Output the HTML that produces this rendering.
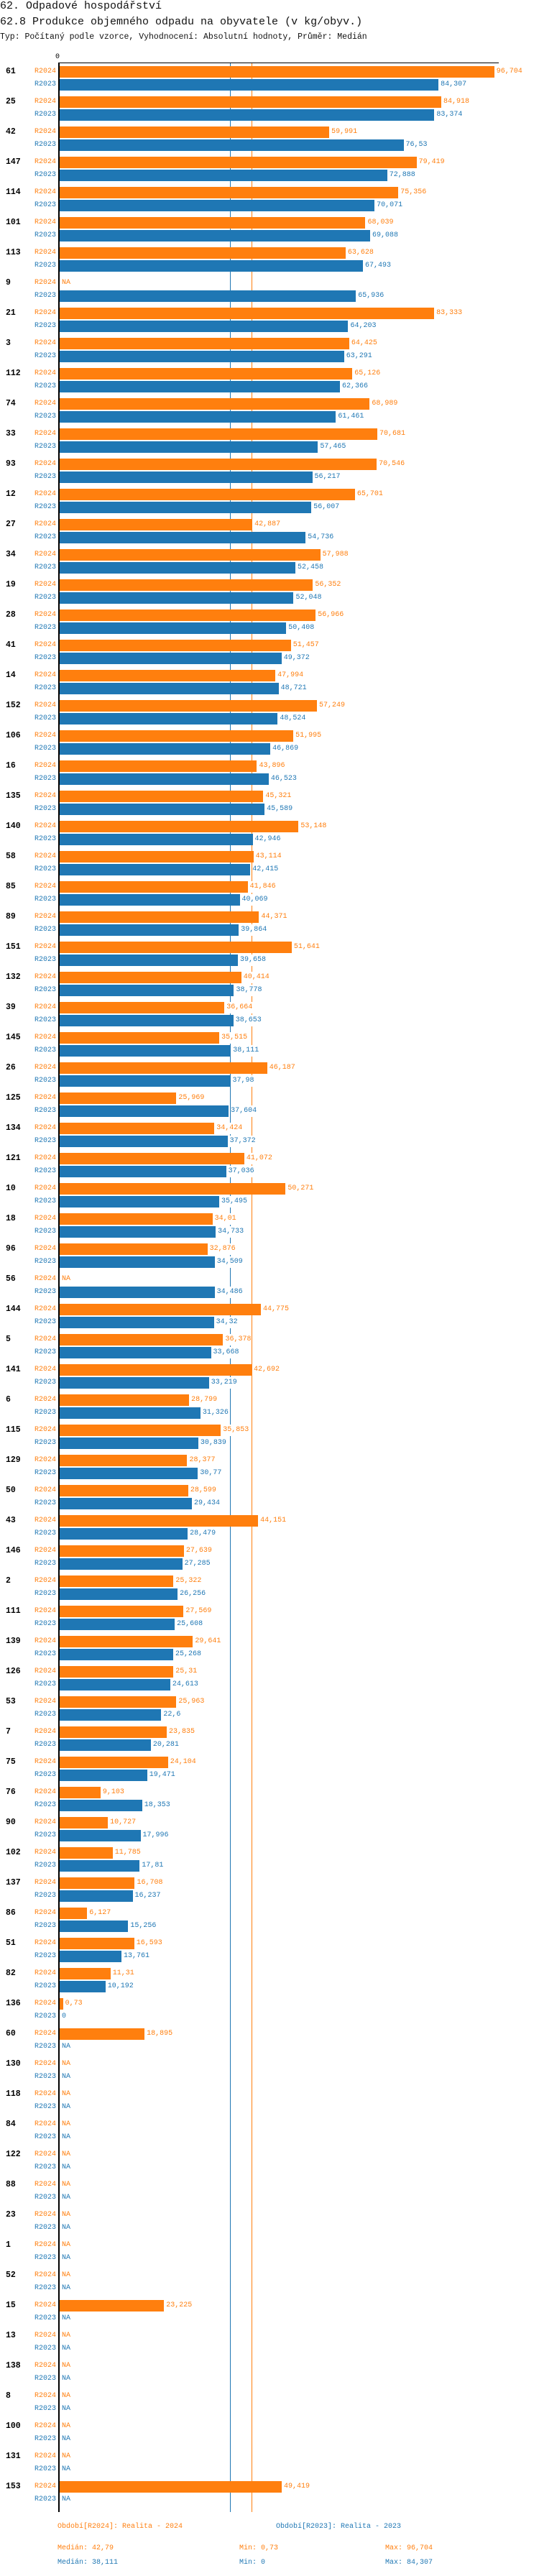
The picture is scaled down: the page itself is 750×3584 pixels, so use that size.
<!DOCTYPE html>
<html><head><meta charset="utf-8">
<style>
*{margin:0;padding:0;box-sizing:border-box}
body{width:750px;height:3584px;background:#fff;position:relative;overflow:hidden;font-family:"Liberation Mono",monospace;font-size:10px}
.t1{position:absolute;left:0;top:0;font-size:15px;line-height:17px;color:#111}
.t2{position:absolute;left:0;top:22px;font-size:15px;line-height:17px;color:#111}
.t3{position:absolute;left:0;top:45px;font-size:11.5px;line-height:14px;color:#111}
.zero{position:absolute;left:77px;top:74px;font-size:10px;line-height:12px}
.ax{position:absolute;left:81px;top:88px;width:2px;height:3407px;background:#000}
.axh{position:absolute;left:81px;top:87px;width:613px;height:1px;background:#000}
.mb{position:absolute;left:320px;top:88px;width:1px;height:3407px;background:#1f77b4}
.mo{position:absolute;left:350px;top:88px;width:1px;height:3407px;background:#ff7f0e}
.g{position:absolute;left:0;top:calc(92px + var(--i)*42px);width:750px;height:34px}
.g b{position:absolute;left:8px;top:0;line-height:16px;font-size:11.5px;font-weight:bold;color:#000}
.g i{position:absolute;left:0;width:78px;text-align:right;font-style:normal;line-height:16px}
.g i.o{top:0}.g i.u{top:18px}
.g p{position:absolute;left:0;width:750px;height:16px}
.g p.o{top:0;color:#ff7f0e}.g p.u{top:18px;color:#1f77b4}
.o{color:#ff7f0e}.u{color:#1f77b4}
.g s{position:absolute;left:83px;top:0;height:16px;width:calc(var(--v)*6.253px)}
.g p.o s{background:#ff7f0e}.g p.u s{background:#1f77b4}
.g em{position:absolute;left:calc(86px + var(--v)*6.253px);top:0;line-height:16px;font-style:normal;background:#fff;padding-right:1px}
.lg{position:absolute;font-size:10px;line-height:12px}
</style></head><body>
<div class="t1">62. Odpadové hospodářství</div>
<div class="t2">62.8 Produkce objemného odpadu na obyvatele (v kg/obyv.)</div>
<div class="t3">Typ: Počítaný podle vzorce, Vyhodnocení: Absolutní hodnoty, Průměr: Medián</div>
<div class="zero">0</div>
<div class="mb"></div><div class="mo"></div>
<div class="axh"></div>

<div class="g" style="--i:0"><b>61</b><i class="o">R2024</i><i class="u">R2023</i><p class="o" style="--v:96.704"><s></s><em>96,704</em></p><p class="u" style="--v:84.307"><s></s><em>84,307</em></p></div>
<div class="g" style="--i:1"><b>25</b><i class="o">R2024</i><i class="u">R2023</i><p class="o" style="--v:84.918"><s></s><em>84,918</em></p><p class="u" style="--v:83.374"><s></s><em>83,374</em></p></div>
<div class="g" style="--i:2"><b>42</b><i class="o">R2024</i><i class="u">R2023</i><p class="o" style="--v:59.991"><s></s><em>59,991</em></p><p class="u" style="--v:76.53"><s></s><em>76,53</em></p></div>
<div class="g" style="--i:3"><b>147</b><i class="o">R2024</i><i class="u">R2023</i><p class="o" style="--v:79.419"><s></s><em>79,419</em></p><p class="u" style="--v:72.888"><s></s><em>72,888</em></p></div>
<div class="g" style="--i:4"><b>114</b><i class="o">R2024</i><i class="u">R2023</i><p class="o" style="--v:75.356"><s></s><em>75,356</em></p><p class="u" style="--v:70.071"><s></s><em>70,071</em></p></div>
<div class="g" style="--i:5"><b>101</b><i class="o">R2024</i><i class="u">R2023</i><p class="o" style="--v:68.039"><s></s><em>68,039</em></p><p class="u" style="--v:69.088"><s></s><em>69,088</em></p></div>
<div class="g" style="--i:6"><b>113</b><i class="o">R2024</i><i class="u">R2023</i><p class="o" style="--v:63.628"><s></s><em>63,628</em></p><p class="u" style="--v:67.493"><s></s><em>67,493</em></p></div>
<div class="g" style="--i:7"><b>9</b><i class="o">R2024</i><i class="u">R2023</i><p class="o" style="--v:0"><em>NA</em></p><p class="u" style="--v:65.936"><s></s><em>65,936</em></p></div>
<div class="g" style="--i:8"><b>21</b><i class="o">R2024</i><i class="u">R2023</i><p class="o" style="--v:83.333"><s></s><em>83,333</em></p><p class="u" style="--v:64.203"><s></s><em>64,203</em></p></div>
<div class="g" style="--i:9"><b>3</b><i class="o">R2024</i><i class="u">R2023</i><p class="o" style="--v:64.425"><s></s><em>64,425</em></p><p class="u" style="--v:63.291"><s></s><em>63,291</em></p></div>
<div class="g" style="--i:10"><b>112</b><i class="o">R2024</i><i class="u">R2023</i><p class="o" style="--v:65.126"><s></s><em>65,126</em></p><p class="u" style="--v:62.366"><s></s><em>62,366</em></p></div>
<div class="g" style="--i:11"><b>74</b><i class="o">R2024</i><i class="u">R2023</i><p class="o" style="--v:68.989"><s></s><em>68,989</em></p><p class="u" style="--v:61.461"><s></s><em>61,461</em></p></div>
<div class="g" style="--i:12"><b>33</b><i class="o">R2024</i><i class="u">R2023</i><p class="o" style="--v:70.681"><s></s><em>70,681</em></p><p class="u" style="--v:57.465"><s></s><em>57,465</em></p></div>
<div class="g" style="--i:13"><b>93</b><i class="o">R2024</i><i class="u">R2023</i><p class="o" style="--v:70.546"><s></s><em>70,546</em></p><p class="u" style="--v:56.217"><s></s><em>56,217</em></p></div>
<div class="g" style="--i:14"><b>12</b><i class="o">R2024</i><i class="u">R2023</i><p class="o" style="--v:65.701"><s></s><em>65,701</em></p><p class="u" style="--v:56.007"><s></s><em>56,007</em></p></div>
<div class="g" style="--i:15"><b>27</b><i class="o">R2024</i><i class="u">R2023</i><p class="o" style="--v:42.887"><s></s><em>42,887</em></p><p class="u" style="--v:54.736"><s></s><em>54,736</em></p></div>
<div class="g" style="--i:16"><b>34</b><i class="o">R2024</i><i class="u">R2023</i><p class="o" style="--v:57.988"><s></s><em>57,988</em></p><p class="u" style="--v:52.458"><s></s><em>52,458</em></p></div>
<div class="g" style="--i:17"><b>19</b><i class="o">R2024</i><i class="u">R2023</i><p class="o" style="--v:56.352"><s></s><em>56,352</em></p><p class="u" style="--v:52.048"><s></s><em>52,048</em></p></div>
<div class="g" style="--i:18"><b>28</b><i class="o">R2024</i><i class="u">R2023</i><p class="o" style="--v:56.966"><s></s><em>56,966</em></p><p class="u" style="--v:50.408"><s></s><em>50,408</em></p></div>
<div class="g" style="--i:19"><b>41</b><i class="o">R2024</i><i class="u">R2023</i><p class="o" style="--v:51.457"><s></s><em>51,457</em></p><p class="u" style="--v:49.372"><s></s><em>49,372</em></p></div>
<div class="g" style="--i:20"><b>14</b><i class="o">R2024</i><i class="u">R2023</i><p class="o" style="--v:47.994"><s></s><em>47,994</em></p><p class="u" style="--v:48.721"><s></s><em>48,721</em></p></div>
<div class="g" style="--i:21"><b>152</b><i class="o">R2024</i><i class="u">R2023</i><p class="o" style="--v:57.249"><s></s><em>57,249</em></p><p class="u" style="--v:48.524"><s></s><em>48,524</em></p></div>
<div class="g" style="--i:22"><b>106</b><i class="o">R2024</i><i class="u">R2023</i><p class="o" style="--v:51.995"><s></s><em>51,995</em></p><p class="u" style="--v:46.869"><s></s><em>46,869</em></p></div>
<div class="g" style="--i:23"><b>16</b><i class="o">R2024</i><i class="u">R2023</i><p class="o" style="--v:43.896"><s></s><em>43,896</em></p><p class="u" style="--v:46.523"><s></s><em>46,523</em></p></div>
<div class="g" style="--i:24"><b>135</b><i class="o">R2024</i><i class="u">R2023</i><p class="o" style="--v:45.321"><s></s><em>45,321</em></p><p class="u" style="--v:45.589"><s></s><em>45,589</em></p></div>
<div class="g" style="--i:25"><b>140</b><i class="o">R2024</i><i class="u">R2023</i><p class="o" style="--v:53.148"><s></s><em>53,148</em></p><p class="u" style="--v:42.946"><s></s><em>42,946</em></p></div>
<div class="g" style="--i:26"><b>58</b><i class="o">R2024</i><i class="u">R2023</i><p class="o" style="--v:43.114"><s></s><em>43,114</em></p><p class="u" style="--v:42.415"><s></s><em>42,415</em></p></div>
<div class="g" style="--i:27"><b>85</b><i class="o">R2024</i><i class="u">R2023</i><p class="o" style="--v:41.846"><s></s><em>41,846</em></p><p class="u" style="--v:40.069"><s></s><em>40,069</em></p></div>
<div class="g" style="--i:28"><b>89</b><i class="o">R2024</i><i class="u">R2023</i><p class="o" style="--v:44.371"><s></s><em>44,371</em></p><p class="u" style="--v:39.864"><s></s><em>39,864</em></p></div>
<div class="g" style="--i:29"><b>151</b><i class="o">R2024</i><i class="u">R2023</i><p class="o" style="--v:51.641"><s></s><em>51,641</em></p><p class="u" style="--v:39.658"><s></s><em>39,658</em></p></div>
<div class="g" style="--i:30"><b>132</b><i class="o">R2024</i><i class="u">R2023</i><p class="o" style="--v:40.414"><s></s><em>40,414</em></p><p class="u" style="--v:38.778"><s></s><em>38,778</em></p></div>
<div class="g" style="--i:31"><b>39</b><i class="o">R2024</i><i class="u">R2023</i><p class="o" style="--v:36.664"><s></s><em>36,664</em></p><p class="u" style="--v:38.653"><s></s><em>38,653</em></p></div>
<div class="g" style="--i:32"><b>145</b><i class="o">R2024</i><i class="u">R2023</i><p class="o" style="--v:35.515"><s></s><em>35,515</em></p><p class="u" style="--v:38.111"><s></s><em>38,111</em></p></div>
<div class="g" style="--i:33"><b>26</b><i class="o">R2024</i><i class="u">R2023</i><p class="o" style="--v:46.187"><s></s><em>46,187</em></p><p class="u" style="--v:37.98"><s></s><em>37,98</em></p></div>
<div class="g" style="--i:34"><b>125</b><i class="o">R2024</i><i class="u">R2023</i><p class="o" style="--v:25.969"><s></s><em>25,969</em></p><p class="u" style="--v:37.604"><s></s><em>37,604</em></p></div>
<div class="g" style="--i:35"><b>134</b><i class="o">R2024</i><i class="u">R2023</i><p class="o" style="--v:34.424"><s></s><em>34,424</em></p><p class="u" style="--v:37.372"><s></s><em>37,372</em></p></div>
<div class="g" style="--i:36"><b>121</b><i class="o">R2024</i><i class="u">R2023</i><p class="o" style="--v:41.072"><s></s><em>41,072</em></p><p class="u" style="--v:37.036"><s></s><em>37,036</em></p></div>
<div class="g" style="--i:37"><b>10</b><i class="o">R2024</i><i class="u">R2023</i><p class="o" style="--v:50.271"><s></s><em>50,271</em></p><p class="u" style="--v:35.495"><s></s><em>35,495</em></p></div>
<div class="g" style="--i:38"><b>18</b><i class="o">R2024</i><i class="u">R2023</i><p class="o" style="--v:34.01"><s></s><em>34,01</em></p><p class="u" style="--v:34.733"><s></s><em>34,733</em></p></div>
<div class="g" style="--i:39"><b>96</b><i class="o">R2024</i><i class="u">R2023</i><p class="o" style="--v:32.876"><s></s><em>32,876</em></p><p class="u" style="--v:34.509"><s></s><em>34,509</em></p></div>
<div class="g" style="--i:40"><b>56</b><i class="o">R2024</i><i class="u">R2023</i><p class="o" style="--v:0"><em>NA</em></p><p class="u" style="--v:34.486"><s></s><em>34,486</em></p></div>
<div class="g" style="--i:41"><b>144</b><i class="o">R2024</i><i class="u">R2023</i><p class="o" style="--v:44.775"><s></s><em>44,775</em></p><p class="u" style="--v:34.32"><s></s><em>34,32</em></p></div>
<div class="g" style="--i:42"><b>5</b><i class="o">R2024</i><i class="u">R2023</i><p class="o" style="--v:36.378"><s></s><em>36,378</em></p><p class="u" style="--v:33.668"><s></s><em>33,668</em></p></div>
<div class="g" style="--i:43"><b>141</b><i class="o">R2024</i><i class="u">R2023</i><p class="o" style="--v:42.692"><s></s><em>42,692</em></p><p class="u" style="--v:33.219"><s></s><em>33,219</em></p></div>
<div class="g" style="--i:44"><b>6</b><i class="o">R2024</i><i class="u">R2023</i><p class="o" style="--v:28.799"><s></s><em>28,799</em></p><p class="u" style="--v:31.326"><s></s><em>31,326</em></p></div>
<div class="g" style="--i:45"><b>115</b><i class="o">R2024</i><i class="u">R2023</i><p class="o" style="--v:35.853"><s></s><em>35,853</em></p><p class="u" style="--v:30.839"><s></s><em>30,839</em></p></div>
<div class="g" style="--i:46"><b>129</b><i class="o">R2024</i><i class="u">R2023</i><p class="o" style="--v:28.377"><s></s><em>28,377</em></p><p class="u" style="--v:30.77"><s></s><em>30,77</em></p></div>
<div class="g" style="--i:47"><b>50</b><i class="o">R2024</i><i class="u">R2023</i><p class="o" style="--v:28.599"><s></s><em>28,599</em></p><p class="u" style="--v:29.434"><s></s><em>29,434</em></p></div>
<div class="g" style="--i:48"><b>43</b><i class="o">R2024</i><i class="u">R2023</i><p class="o" style="--v:44.151"><s></s><em>44,151</em></p><p class="u" style="--v:28.479"><s></s><em>28,479</em></p></div>
<div class="g" style="--i:49"><b>146</b><i class="o">R2024</i><i class="u">R2023</i><p class="o" style="--v:27.639"><s></s><em>27,639</em></p><p class="u" style="--v:27.285"><s></s><em>27,285</em></p></div>
<div class="g" style="--i:50"><b>2</b><i class="o">R2024</i><i class="u">R2023</i><p class="o" style="--v:25.322"><s></s><em>25,322</em></p><p class="u" style="--v:26.256"><s></s><em>26,256</em></p></div>
<div class="g" style="--i:51"><b>111</b><i class="o">R2024</i><i class="u">R2023</i><p class="o" style="--v:27.569"><s></s><em>27,569</em></p><p class="u" style="--v:25.608"><s></s><em>25,608</em></p></div>
<div class="g" style="--i:52"><b>139</b><i class="o">R2024</i><i class="u">R2023</i><p class="o" style="--v:29.641"><s></s><em>29,641</em></p><p class="u" style="--v:25.268"><s></s><em>25,268</em></p></div>
<div class="g" style="--i:53"><b>126</b><i class="o">R2024</i><i class="u">R2023</i><p class="o" style="--v:25.31"><s></s><em>25,31</em></p><p class="u" style="--v:24.613"><s></s><em>24,613</em></p></div>
<div class="g" style="--i:54"><b>53</b><i class="o">R2024</i><i class="u">R2023</i><p class="o" style="--v:25.963"><s></s><em>25,963</em></p><p class="u" style="--v:22.6"><s></s><em>22,6</em></p></div>
<div class="g" style="--i:55"><b>7</b><i class="o">R2024</i><i class="u">R2023</i><p class="o" style="--v:23.835"><s></s><em>23,835</em></p><p class="u" style="--v:20.281"><s></s><em>20,281</em></p></div>
<div class="g" style="--i:56"><b>75</b><i class="o">R2024</i><i class="u">R2023</i><p class="o" style="--v:24.104"><s></s><em>24,104</em></p><p class="u" style="--v:19.471"><s></s><em>19,471</em></p></div>
<div class="g" style="--i:57"><b>76</b><i class="o">R2024</i><i class="u">R2023</i><p class="o" style="--v:9.103"><s></s><em>9,103</em></p><p class="u" style="--v:18.353"><s></s><em>18,353</em></p></div>
<div class="g" style="--i:58"><b>90</b><i class="o">R2024</i><i class="u">R2023</i><p class="o" style="--v:10.727"><s></s><em>10,727</em></p><p class="u" style="--v:17.996"><s></s><em>17,996</em></p></div>
<div class="g" style="--i:59"><b>102</b><i class="o">R2024</i><i class="u">R2023</i><p class="o" style="--v:11.785"><s></s><em>11,785</em></p><p class="u" style="--v:17.81"><s></s><em>17,81</em></p></div>
<div class="g" style="--i:60"><b>137</b><i class="o">R2024</i><i class="u">R2023</i><p class="o" style="--v:16.708"><s></s><em>16,708</em></p><p class="u" style="--v:16.237"><s></s><em>16,237</em></p></div>
<div class="g" style="--i:61"><b>86</b><i class="o">R2024</i><i class="u">R2023</i><p class="o" style="--v:6.127"><s></s><em>6,127</em></p><p class="u" style="--v:15.256"><s></s><em>15,256</em></p></div>
<div class="g" style="--i:62"><b>51</b><i class="o">R2024</i><i class="u">R2023</i><p class="o" style="--v:16.593"><s></s><em>16,593</em></p><p class="u" style="--v:13.761"><s></s><em>13,761</em></p></div>
<div class="g" style="--i:63"><b>82</b><i class="o">R2024</i><i class="u">R2023</i><p class="o" style="--v:11.31"><s></s><em>11,31</em></p><p class="u" style="--v:10.192"><s></s><em>10,192</em></p></div>
<div class="g" style="--i:64"><b>136</b><i class="o">R2024</i><i class="u">R2023</i><p class="o" style="--v:0.73"><s></s><em>0,73</em></p><p class="u" style="--v:0"><em>0</em></p></div>
<div class="g" style="--i:65"><b>60</b><i class="o">R2024</i><i class="u">R2023</i><p class="o" style="--v:18.895"><s></s><em>18,895</em></p><p class="u" style="--v:0"><em>NA</em></p></div>
<div class="g" style="--i:66"><b>130</b><i class="o">R2024</i><i class="u">R2023</i><p class="o" style="--v:0"><em>NA</em></p><p class="u" style="--v:0"><em>NA</em></p></div>
<div class="g" style="--i:67"><b>118</b><i class="o">R2024</i><i class="u">R2023</i><p class="o" style="--v:0"><em>NA</em></p><p class="u" style="--v:0"><em>NA</em></p></div>
<div class="g" style="--i:68"><b>84</b><i class="o">R2024</i><i class="u">R2023</i><p class="o" style="--v:0"><em>NA</em></p><p class="u" style="--v:0"><em>NA</em></p></div>
<div class="g" style="--i:69"><b>122</b><i class="o">R2024</i><i class="u">R2023</i><p class="o" style="--v:0"><em>NA</em></p><p class="u" style="--v:0"><em>NA</em></p></div>
<div class="g" style="--i:70"><b>88</b><i class="o">R2024</i><i class="u">R2023</i><p class="o" style="--v:0"><em>NA</em></p><p class="u" style="--v:0"><em>NA</em></p></div>
<div class="g" style="--i:71"><b>23</b><i class="o">R2024</i><i class="u">R2023</i><p class="o" style="--v:0"><em>NA</em></p><p class="u" style="--v:0"><em>NA</em></p></div>
<div class="g" style="--i:72"><b>1</b><i class="o">R2024</i><i class="u">R2023</i><p class="o" style="--v:0"><em>NA</em></p><p class="u" style="--v:0"><em>NA</em></p></div>
<div class="g" style="--i:73"><b>52</b><i class="o">R2024</i><i class="u">R2023</i><p class="o" style="--v:0"><em>NA</em></p><p class="u" style="--v:0"><em>NA</em></p></div>
<div class="g" style="--i:74"><b>15</b><i class="o">R2024</i><i class="u">R2023</i><p class="o" style="--v:23.225"><s></s><em>23,225</em></p><p class="u" style="--v:0"><em>NA</em></p></div>
<div class="g" style="--i:75"><b>13</b><i class="o">R2024</i><i class="u">R2023</i><p class="o" style="--v:0"><em>NA</em></p><p class="u" style="--v:0"><em>NA</em></p></div>
<div class="g" style="--i:76"><b>138</b><i class="o">R2024</i><i class="u">R2023</i><p class="o" style="--v:0"><em>NA</em></p><p class="u" style="--v:0"><em>NA</em></p></div>
<div class="g" style="--i:77"><b>8</b><i class="o">R2024</i><i class="u">R2023</i><p class="o" style="--v:0"><em>NA</em></p><p class="u" style="--v:0"><em>NA</em></p></div>
<div class="g" style="--i:78"><b>100</b><i class="o">R2024</i><i class="u">R2023</i><p class="o" style="--v:0"><em>NA</em></p><p class="u" style="--v:0"><em>NA</em></p></div>
<div class="g" style="--i:79"><b>131</b><i class="o">R2024</i><i class="u">R2023</i><p class="o" style="--v:0"><em>NA</em></p><p class="u" style="--v:0"><em>NA</em></p></div>
<div class="g" style="--i:80"><b>153</b><i class="o">R2024</i><i class="u">R2023</i><p class="o" style="--v:49.419"><s></s><em>49,419</em></p><p class="u" style="--v:0"><em>NA</em></p></div>

<div class="ax"></div>

<div class="lg o" style="left:80px;top:3510px">Období[R2024]: Realita - 2024</div>
<div class="lg u" style="left:384px;top:3510px">Období[R2023]: Realita - 2023</div>
<div class="lg o" style="left:80px;top:3540px">Medián: 42,79</div>
<div class="lg o" style="left:333px;top:3540px">Min: 0,73</div>
<div class="lg o" style="left:536px;top:3540px">Max: 96,704</div>
<div class="lg u" style="left:80px;top:3560px">Medián: 38,111</div>
<div class="lg u" style="left:333px;top:3560px">Min: 0</div>
<div class="lg u" style="left:536px;top:3560px">Max: 84,307</div>
</body></html>
